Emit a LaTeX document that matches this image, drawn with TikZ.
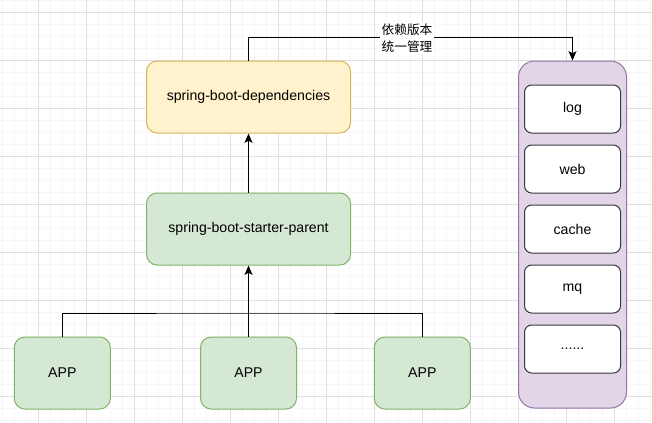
\documentclass[tikz,border=0pt]{standalone}
\usepackage{fontspec}
\setmainfont{Liberation Sans}
\newfontfamily\cjk{Noto Sans CJK SC}
\usetikzlibrary{arrows.meta}
\definecolor{gridminor}{HTML}{F6F6F6}
\definecolor{gridmajor}{HTML}{E0E0E0}
\definecolor{yfill}{HTML}{FFF2CC}
\definecolor{ystroke}{HTML}{D6B656}
\definecolor{gfill}{HTML}{D5E8D4}
\definecolor{gstroke}{HTML}{82B366}
\definecolor{pfill}{HTML}{E1D5E7}
\definecolor{pstroke}{HTML}{9673A6}
\definecolor{wstroke}{HTML}{36393D}
\tikzset{
  box/.style={rectangle, draw, line width=0.75pt, inner sep=0pt, align=center,
    font=\fontsize{10.6pt}{12pt}\selectfont},
  bigbox/.style={box, minimum width=153pt, minimum height=54pt, rounded corners=8pt},
  yellowbox/.style={bigbox, fill=yfill, draw=ystroke},
  greenbox/.style={bigbox, fill=gfill, draw=gstroke},
  appbox/.style={box, minimum width=72pt, minimum height=54pt, rounded corners=8pt, fill=gfill, draw=gstroke},
  container/.style={rectangle, draw=pstroke, fill=pfill, line width=0.75pt, minimum width=81pt, minimum height=260.25pt, rounded corners=12pt, inner sep=0pt},
  itembox/.style={box, minimum width=72pt, minimum height=36pt, rounded corners=5.4pt, fill=white, draw=wstroke},
  conn/.style={line width=0.75pt, draw=black},
  arr/.style={conn, -{Stealth[length=7pt, width=6pt, inset=1.5pt]}},
  lbl/.style={fill=white, inner sep=1.5pt, align=center, font=\cjk\fontsize{9.5pt}{12.5pt}\selectfont}
}
\begin{document}
\begin{tikzpicture}[x=0.75pt, y=-0.75pt]
\useasboundingbox (0,0) rectangle (652,422);
\fill[white] (0,0) rectangle (652,422);
% grid
\foreach \i in {0,...,54} {
  \draw[gridminor, line width=0.75pt] ({2.3+12*\i},0) -- ({2.3+12*\i},422);
}
\foreach \i in {0,...,35} {
  \draw[gridminor, line width=0.75pt] (0,{0.3+12*\i}) -- (652,{0.3+12*\i});
}
\foreach \i in {0,...,13} {
  \draw[gridmajor, line width=0.75pt] ({38.3+48*\i},0) -- ({38.3+48*\i},422);
}
\foreach \i in {0,...,8} {
  \draw[gridmajor, line width=0.75pt] (0,{12.3+48*\i}) -- (652,{12.3+48*\i});
}
% nodes
\node[yellowbox] (deps) at (248.5,97) {spring-boot-dependencies};
\node[greenbox] (parent) at (248.5,229) {spring-boot-starter-parent};
\node[appbox] (app1) at (62.3,373) {APP};
\node[appbox] (app2) at (248.5,373) {APP};
\node[appbox] (app3) at (422.3,373) {APP};
\node[container] (cont) at (572.5,234.5) {};
\node[itembox] (log) at (572.5,109) {log};
\node[itembox] (web) at (572.5,169) {web};
\node[itembox] (cache) at (572.5,229) {cache};
\node[itembox] (mq) at (572.5,289) {mq};
\node[itembox] (more) at (572.5,349) {......};
% connectors
\coordinate (j) at (248.5,313);
\coordinate (t) at (248.5,37);
\draw[conn] (app1.north) |- (j) -| (app3.north);
\draw[arr] (app2.north) -- (parent.south);
\draw[arr] (parent.north) -- (deps.south);
\draw[arr] (deps.north) -- (t) -| (cont.north);
\node[lbl] (label) at (407,38) {依赖版本\\统一管理};
\end{tikzpicture}
\end{document}
